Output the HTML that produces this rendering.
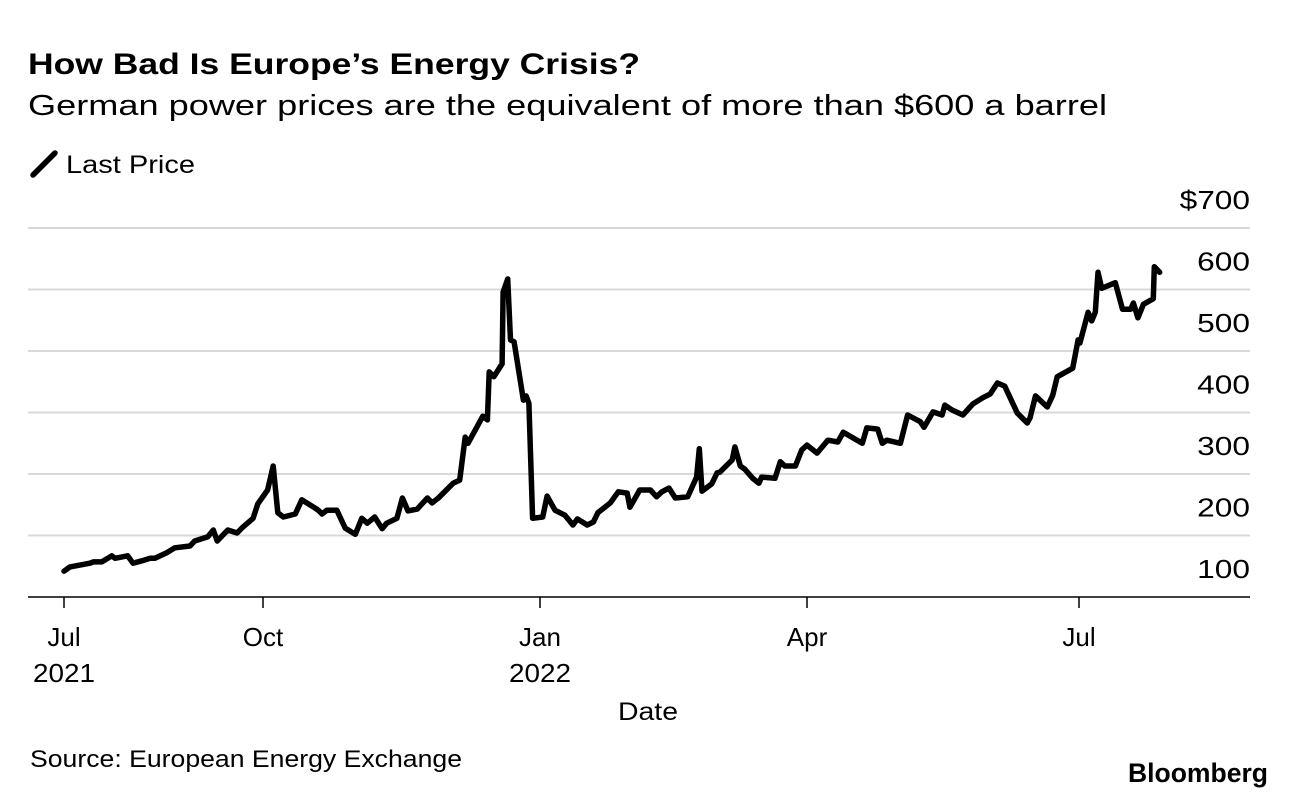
<!DOCTYPE html>
<html><head><meta charset="utf-8"><style>
body{margin:0;background:#fff;font-family:"Liberation Sans",Arial,sans-serif;}
svg text{font-family:"Liberation Sans",Arial,sans-serif;}
</style></head><body>
<svg id="c" width="1296" height="798" xmlns="http://www.w3.org/2000/svg">
<text x="28" y="74" font-size="30" font-weight="bold" fill="#000" textLength="612" lengthAdjust="spacingAndGlyphs">How Bad Is Europe’s Energy Crisis?</text>
<text x="28" y="115" font-size="29" fill="#000" textLength="1079" lengthAdjust="spacingAndGlyphs">German power prices are the equivalent of more than $600 a barrel</text>
<g>
<line x1="33" y1="175" x2="55" y2="153" stroke="#000" stroke-width="5.5" stroke-linecap="round"/>
<text x="66" y="173" font-size="25" textLength="129" lengthAdjust="spacingAndGlyphs">Last Price</text>
</g>
<g id="grid"></g>
<g id="xax"></g>
<path id="line" fill="none" stroke="#000" stroke-width="5.5" stroke-linejoin="round" stroke-linecap="round"/>
<text x="648" y="720" font-size="25" text-anchor="middle" textLength="60" lengthAdjust="spacingAndGlyphs">Date</text>
<text x="30" y="767" font-size="24" textLength="432" lengthAdjust="spacingAndGlyphs">Source: European Energy Exchange</text>
<text x="1128" y="782" font-size="27" font-weight="bold" textLength="140" lengthAdjust="spacingAndGlyphs">Bloomberg</text>
</svg>
<script>
const months=[0,0.09,0.39,0.44,0.57,0.72,0.77,0.96,1.04,1.18,1.30,1.37,1.55,1.67,1.90,1.97,2.17,2.25,2.31,2.47,2.61,2.68,2.85,2.92,
3.05,3.11,3.16,3.22,3.35,3.42,3.56,3.60,3.64,3.69,3.80,3.89,4.00,4.07,4.13,4.21,4.29,4.34,4.45,4.51,4.57,4.67,4.78,4.83,4.90,5.06,5.13,5.19,5.22,5.38,5.43,5.45,5.50,5.59,5.60,5.65,5.68,5.72,5.82,5.85,5.88,5.92,
6.03,6.08,6.17,6.28,6.37,6.42,6.53,6.60,6.65,6.79,6.88,6.98,7.01,7.07,7.12,7.24,7.31,7.37,7.45,7.52,7.66,7.76,7.79,7.82,7.93,7.99,8.02,8.16,8.19,8.25,8.30,8.39,8.46,8.49,8.64,8.70,8.75,8.87,8.94,
9.00,9.11,9.23,9.34,9.40,9.61,9.66,9.78,9.83,9.88,10.03,10.11,10.25,10.29,10.39,10.49,10.52,10.60,10.72,10.83,10.94,11.02,11.10,11.18,11.32,11.43,11.46,11.52,11.65,11.71,11.76,11.93,11.99,12.01,12.10,12.14,12.18,12.21,12.25,12.40,12.48,12.57,12.60,12.65,12.71,12.82,12.83,12.89];
const prices=[142,149,155,157,157,167,163,167,155,159,163,163,172,180,183,191,198,209,191,209,204,212,228,251,
274,313,237,230,235,258,245,241,235,241,241,212,202,228,220,230,211,220,228,261,240,243,261,253,261,285,290,360,350,394,388,466,458,479,596,617,518,515,420,427,415,228,
230,264,241,233,217,227,217,222,237,253,271,269,246,261,274,274,263,271,277,261,263,295,341,272,284,302,303,323,344,313,308,293,285,295,293,320,313,313,339,
347,334,355,352,368,350,375,373,350,355,350,396,385,376,401,396,412,404,396,414,424,430,448,443,399,383,391,427,409,428,458,472,518,513,563,549,563,628,602,611,568,568,578,554,576,585,637,628];
const yTicks=[100,200,300,400,500,600,700];
const yTickLabels=["100","200","300","400","500","600","$700"];
const xTickMonths=[0,3,6,9,12];
const xTickLabels=["Jul","Oct","Jan","Apr","Jul"];
const xTickYears=["2021","","2022","",""];
const xAnchorPx=[64,263,540,807,1079];
const NS="http://www.w3.org/2000/svg";
function y(v){return 597-(v-100)*0.615;}
function x(m){let i=0;while(i<xTickMonths.length-2&&m>xTickMonths[i+1])i++;
 const m0=xTickMonths[i],m1=xTickMonths[i+1];return xAnchorPx[i]+(m-m0)/(m1-m0)*(xAnchorPx[i+1]-xAnchorPx[i]);}
function mk(t,a,p){const e=document.createElementNS(NS,t);for(const k in a)e.setAttribute(k,a[k]);p.appendChild(e);return e;}
const grid=document.getElementById('grid');
yTicks.forEach((v,i)=>{
 if(v>100){const l=mk('line',{x1:28,x2:1250,y1:y(v),y2:y(v),stroke:'#d9d9d9','stroke-width':2},grid);
 
 }
 const t=mk('text',{x:1250,y:y(v)-19,'font-size':26,'text-anchor':'end'},grid);t.textContent=yTickLabels[i];
 t.setAttribute('textLength',yTickLabels[i].length*17.6);
 t.setAttribute('lengthAdjust','spacingAndGlyphs');
 
 
});
const xax=document.getElementById('xax');
const base=mk('line',{x1:28,x2:1250,y1:597,y2:597,stroke:'#000','stroke-width':1.5},xax);


xTickMonths.forEach((m,i)=>{
 const px=x(m);
 const tk=mk('line',{x1:px,x2:px,y1:597,y2:608,stroke:'#000','stroke-width':1.5},xax);
 
 
 const t=mk('text',{x:px,y:646,'font-size':26,'text-anchor':'middle'},xax);t.textContent=xTickLabels[i];
 
 
 if(xTickYears[i]){const t2=mk('text',{x:px,y:682,'font-size':26,'text-anchor':'middle','textLength':62,'lengthAdjust':'spacingAndGlyphs'},xax);t2.textContent=xTickYears[i];
 
 }
});
document.getElementById('line').setAttribute('d',months.map((m,i)=>(i?'L':'M')+x(m).toFixed(1)+' '+y(prices[i]).toFixed(1)).join(''));
</script>
</body></html>
